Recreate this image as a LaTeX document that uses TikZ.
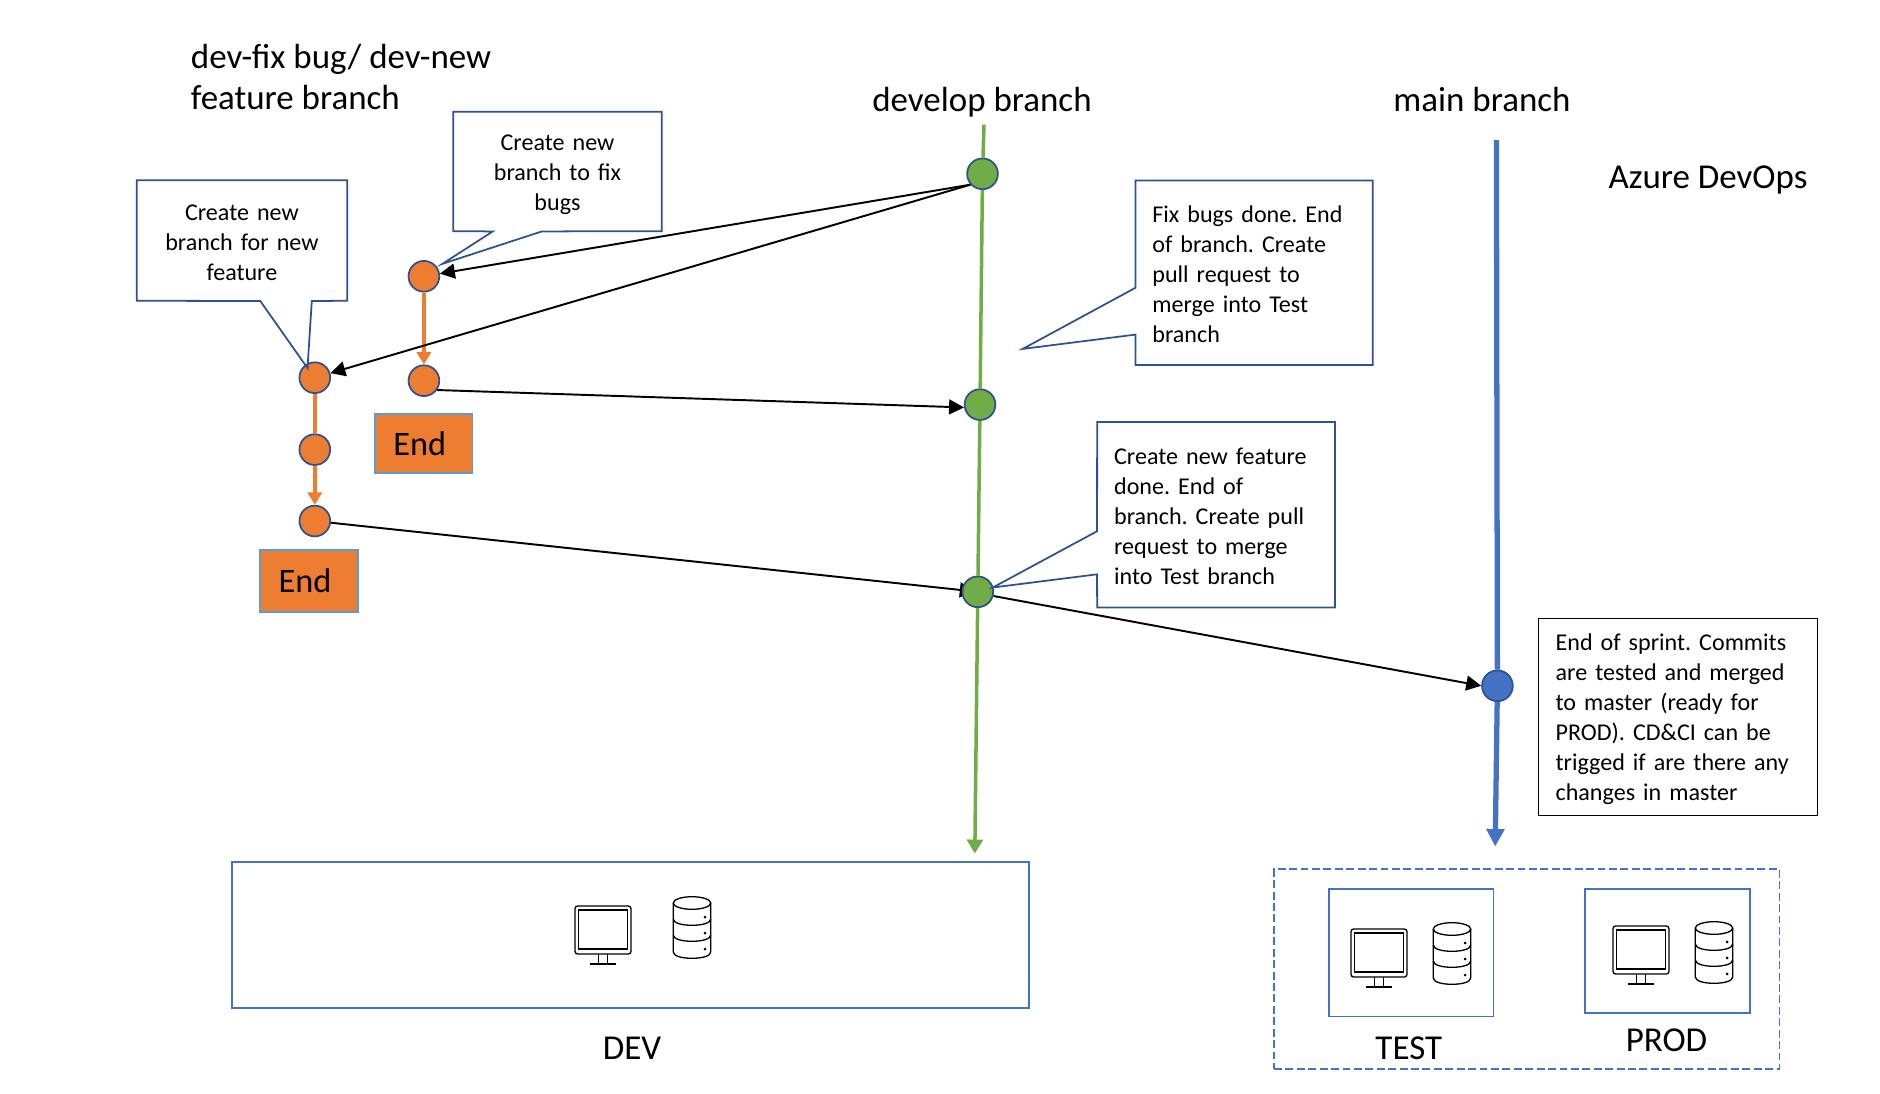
\documentclass[tikz,border=0pt]{standalone}
\usepackage{fontspec}
\setmainfont{Carlito}
\usetikzlibrary{arrows.meta,backgrounds}
\frenchspacing

\definecolor{gitblue}{HTML}{4472C4}
\definecolor{gitgreen}{HTML}{70AD47}
\definecolor{gitorange}{HTML}{ED7D31}
\definecolor{rimblue}{HTML}{2F528F}
\definecolor{endblue}{HTML}{5B9BD5}

\tikzstyle{title}=[font=\fontsize{19.9}{23.3}\selectfont,inner sep=0pt,anchor=base]
\tikzstyle{commit}=[circle,draw=rimblue,line width=1pt,minimum size=0.615cm,inner sep=0pt]
\tikzstyle{note}=[font=\fontsize{13.7}{17}\selectfont,outer sep=0pt,inner ysep=0pt,execute at begin node=\rule{0pt}{11pt}]
\tikzstyle{noteline}=[draw=rimblue,line width=1pt]
\tikzstyle{endbox}=[fill=gitorange,draw=endblue,line width=1pt,font=\fontsize{19.5}{23.3}\selectfont]
\tikzstyle{envbox}=[draw=gitblue,line width=1pt]
\tikzstyle{merge}=[black,line width=1.1pt,-{Triangle[length=8.5pt,width=8.5pt]}]
\tikzstyle{feature}=[gitorange,line width=2.2pt,-{Triangle[length=7pt,width=8pt]}]

\tikzset{
  pics/monitor/.style={code={
    \draw[line width=0.75pt,rounded corners=1.5pt] (-28,-24) rectangle (28,24);
    \draw[line width=0.75pt] (-24.5,-20) rectangle (24.5,19);
    \draw[line width=0.75pt] (-4.5,24) -- (-4.5,34) (4.5,24) -- (4.5,34) (-13,34) -- (13,34);
  }},
  pics/database/.style={code={
    \draw[line width=0.75pt] (0,-24) ellipse (0.374cm and 0.126cm);
    \draw[line width=0.75pt] (-18.7,-24) -- (-18.7,25) .. controls (-18.7,33.4) and (18.7,33.4) .. (18.7,25) -- (18.7,-24);
    \draw[line width=0.75pt] (-18.7,-8) .. controls (-18.7,0.4) and (18.7,0.4) .. (18.7,-8);
    \draw[line width=0.75pt] (-18.7,8) .. controls (-18.7,16.4) and (18.7,16.4) .. (18.7,8);
    \fill (13,-10) circle (0.03cm) (13,6) circle (0.03cm) (13,22) circle (0.03cm);
  }}
}

\begin{document}
\begin{tikzpicture}[x=0.02cm,y=-0.02cm]
\useasboundingbox (0,0) rectangle (1880,1093);

\node[title,anchor=west,align=left] (FEAT) at (190.6,76.6) {dev-fix bug/ dev-new\\feature branch};
\node[title] (DEV) at (982,111.4) {develop branch};
\node[title] (MAIN) at (1482,111.4) {main branch};
\node[title] (AZURE) at (1708,188.2) {Azure DevOps};

\coordinate (DEVtop) at (984,124.7);
\coordinate (DEVend) at (974.8,853.6);
\coordinate (MAINtop) at (1496.4,140);
\coordinate (MAINend) at (1495.2,846.5);

\node[commit,fill=gitgreen] (G1) at (982.5,173.8) {};
\node[commit,fill=gitgreen] (G2) at (980,404.6) {};
\node[commit,fill=gitgreen] (G3) at (977.8,591.8) {};
\node[commit,fill=gitblue] (B1) at (1497.4,685.8) {};
\node[commit,fill=gitorange] (FIXa) at (423.9,276.3) {};
\node[commit,fill=gitorange] (FIXb) at (423.9,380.7) {};
\node[commit,fill=gitorange] (NEWa) at (314.8,377.7) {};
\node[commit,fill=gitorange] (NEWb) at (314.8,449.6) {};
\node[commit,fill=gitorange] (NEWc) at (314.8,521) {};

\node[endbox,minimum width=1.946cm,minimum height=1.18cm] (ENDfix) at (423.9,443.3) {End\kern4.6pt};
\node[endbox,minimum width=1.956cm,minimum height=1.23cm] (ENDnew) at (309,580.9) {End\kern4.6pt};

\draw[gitgreen,line width=2pt] (DEVtop) -- (G1);
\draw[gitgreen,line width=2pt] (G1) -- (G2);
\draw[gitgreen,line width=2pt] (G2) -- (G3);
\draw[gitgreen,line width=2pt,-{Triangle[length=8pt,width=9pt]}] (G3) -- (DEVend);
\draw[gitblue,line width=3pt] (MAINtop) -- (B1);
\draw[gitblue,line width=3pt,-{Triangle[length=10pt,width=10pt]}] (B1) -- (MAINend);

\draw[feature] (FIXa) -- (FIXb);
\draw[feature,-] (NEWa) -- (NEWb);
\draw[feature] (NEWb) -- (NEWc);

\draw[merge] (G1.222) -- (FIXa);
\draw[merge] (G1.222) -- (NEWa);
\draw[merge] (FIXb.-35) -- (G2.190);
\begin{scope}[on background layer]
\draw[merge,shorten >=-7.5pt] (NEWc) -- (G3);
\end{scope}
\draw[merge] (G3.-15) -- (B1.west);

\node[note,align=center,text width=4.17cm,inner xsep=0pt,minimum height=2.39cm] (BUGnote) at (557.5,171.5) {\rule{0pt}{12.2pt}Create new\\branch to fix\\bugs};
\draw[noteline] (BUGnote.north west) -- (BUGnote.north east) -- (BUGnote.south east) -- (541.9,231.4) -- (442.5,263.8) -- (492.8,231.4) -- (BUGnote.south west) -- cycle;

\node[note,align=center,text width=4.21cm,inner xsep=0pt,minimum height=2.41cm] (NEWnote) at (241.9,240.6) {Create new\\branch for new\\feature};
\draw[noteline] (NEWnote.north west) -- (NEWnote.north east) -- (NEWnote.south east) -- (311.8,300.9) -- (307.5,368.1) -- (260.2,300.9) -- (NEWnote.south west) -- cycle;

\node[note,align=left,text width=4.07cm,inner xsep=0.34cm,minimum height=3.69cm] (FIXnote) at (1254.1,272.8) {Fix bugs done. End\\of branch. Create\\pull request to\\merge into Test\\branch};
\draw[noteline] (FIXnote.north west) -- (FIXnote.north east) -- (FIXnote.south east) -- (FIXnote.south west) -- (1135.4,334.6) -- (1022.7,348.9) -- (1135.4,287.8) -- cycle;

\node[note,align=left,text width=4.08cm,inner xsep=0.34cm,minimum height=3.71cm] (DONEnote) at (1216.1,514.8) {Create new feature\\done. End of\\branch. Create pull\\request to merge\\into Test branch};
\draw[noteline] (DONEnote.north west) -- (DONEnote.north east) -- (DONEnote.south east) -- (DONEnote.south west) -- (1097.1,574.3) -- (992.8,587.5) -- (1097.1,531.2) -- cycle;

\node[note,draw=black,line width=0.7pt,align=left,text width=4.9cm,inner xsep=0.34cm,minimum height=3.95cm] (SPRINT) at (1678.1,716.9) {\rule{0pt}{12.2pt}End of sprint. Commits\\are tested and merged\\to master (ready for\\PROD). CD\&CI can be\\trigged if are there any\\changes in master};

\node[envbox,minimum width=15.95cm,minimum height=2.93cm] (DEVbox) at (630.5,935) {};
\pic at (603,930) {monitor};
\pic at (692,927) {database};
\node[title] (DEVlabel) at (632,1059) {DEV};

\node[envbox,dash pattern=on 4.5pt off 2pt,minimum width=10.11cm,minimum height=4cm] (STAGES) at (1526.7,969) {};
\node[envbox,minimum width=3.29cm,minimum height=2.56cm] (TESTbox) at (1411.2,952.6) {};
\node[envbox,minimum width=3.29cm,minimum height=2.49cm] (PRODbox) at (1667.5,950.9) {};
\pic at (1379,953) {monitor};
\pic at (1452,953) {database};
\pic at (1641,950) {monitor};
\pic at (1714,952) {database};
\node[title] (TESTlabel) at (1408.8,1059) {TEST};
\node[title] (PRODlabel) at (1666.5,1051.5) {PROD};
\end{tikzpicture}
\end{document}
